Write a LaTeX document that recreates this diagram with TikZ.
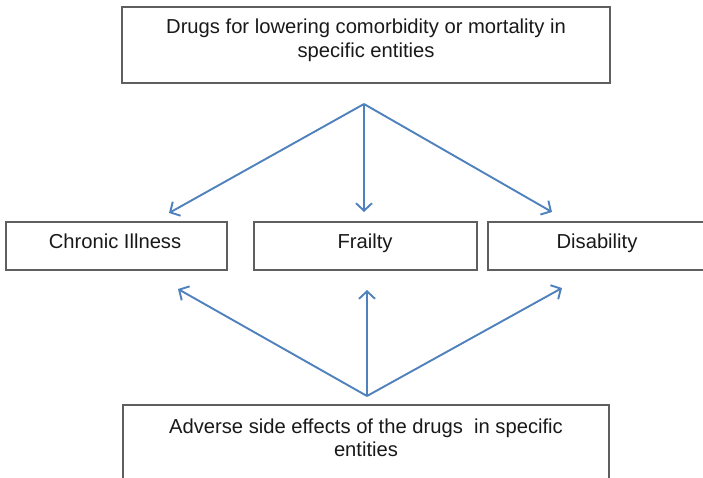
\documentclass[tikz,border=0pt]{standalone}
\usepackage{fontspec}
\setmainfont{Liberation Sans}
\usetikzlibrary{arrows.meta}
\definecolor{linkblue}{RGB}{79,129,189}
\definecolor{boxgray}{RGB}{95,95,95}
\begin{document}
\begin{tikzpicture}[x=1pt,y=-1pt,
  box/.style={draw=boxgray,line width=1.6pt,rectangle,inner sep=0pt},
  txt/.style={inner sep=0pt,align=center,font=\fontsize{20.2}{23.5}\selectfont,text=black!90},
  link/.style={draw=linkblue,line width=1.9pt,-{Straight Barb[length=7.5pt,width=16pt,line width=1.9pt]}}]
\useasboundingbox (0,0) rectangle (703,478);
\clip (0,0) rectangle (703,478);
\fill[white] (0,0) rectangle (703,478);

% boxes
\node[box,minimum width=488pt,minimum height=76pt] (topbox) at (366,45) {};
\node[box,minimum width=486pt,minimum height=90pt] (botbox) at (366,450) {};
\node[box,minimum width=221pt,minimum height=48pt] (chronic) at (116.5,246) {};
\node[box,minimum width=223pt,minimum height=48pt] (frailty) at (365.5,246) {};
\node[box,minimum width=224pt,minimum height=48pt] (disab) at (600,246) {};

% labels
\node[txt,anchor=north] (toptext) at (366,18.8) {Drugs for lowering comorbidity or mortality in\\specific entities};
\node[txt,anchor=north] (bottext) at (366,418.4) {Adverse side effects of the drugs\ \ in specific\\entities};
\node[txt,anchor=base] (chronictext) at (115,248) {Chronic Illness};
\node[txt,anchor=base] (frailtytext) at (365,248) {Frailty};
\node[txt,anchor=base] (disabtext) at (597,248) {Disability};

% junction points of the arrow fans
\coordinate (topapex) at (364,104);
\coordinate (botapex) at (367,396);
\coordinate (tipCa) at (169,213);
\coordinate (tipFa) at (364,212);
\coordinate (tipDa) at (552,212);
\coordinate (tipCb) at (178,289);
\coordinate (tipFb) at (367,290);
\coordinate (tipDb) at (562,288);

% arrows
\draw[link] (topapex) -- (tipCa);
\draw[link] (topapex) -- (tipFa);
\draw[link] (topapex) -- (tipDa);
\draw[link] (botapex) -- (tipCb);
\draw[link] (botapex) -- (tipFb);
\draw[link] (botapex) -- (tipDb);
\end{tikzpicture}
\end{document}
